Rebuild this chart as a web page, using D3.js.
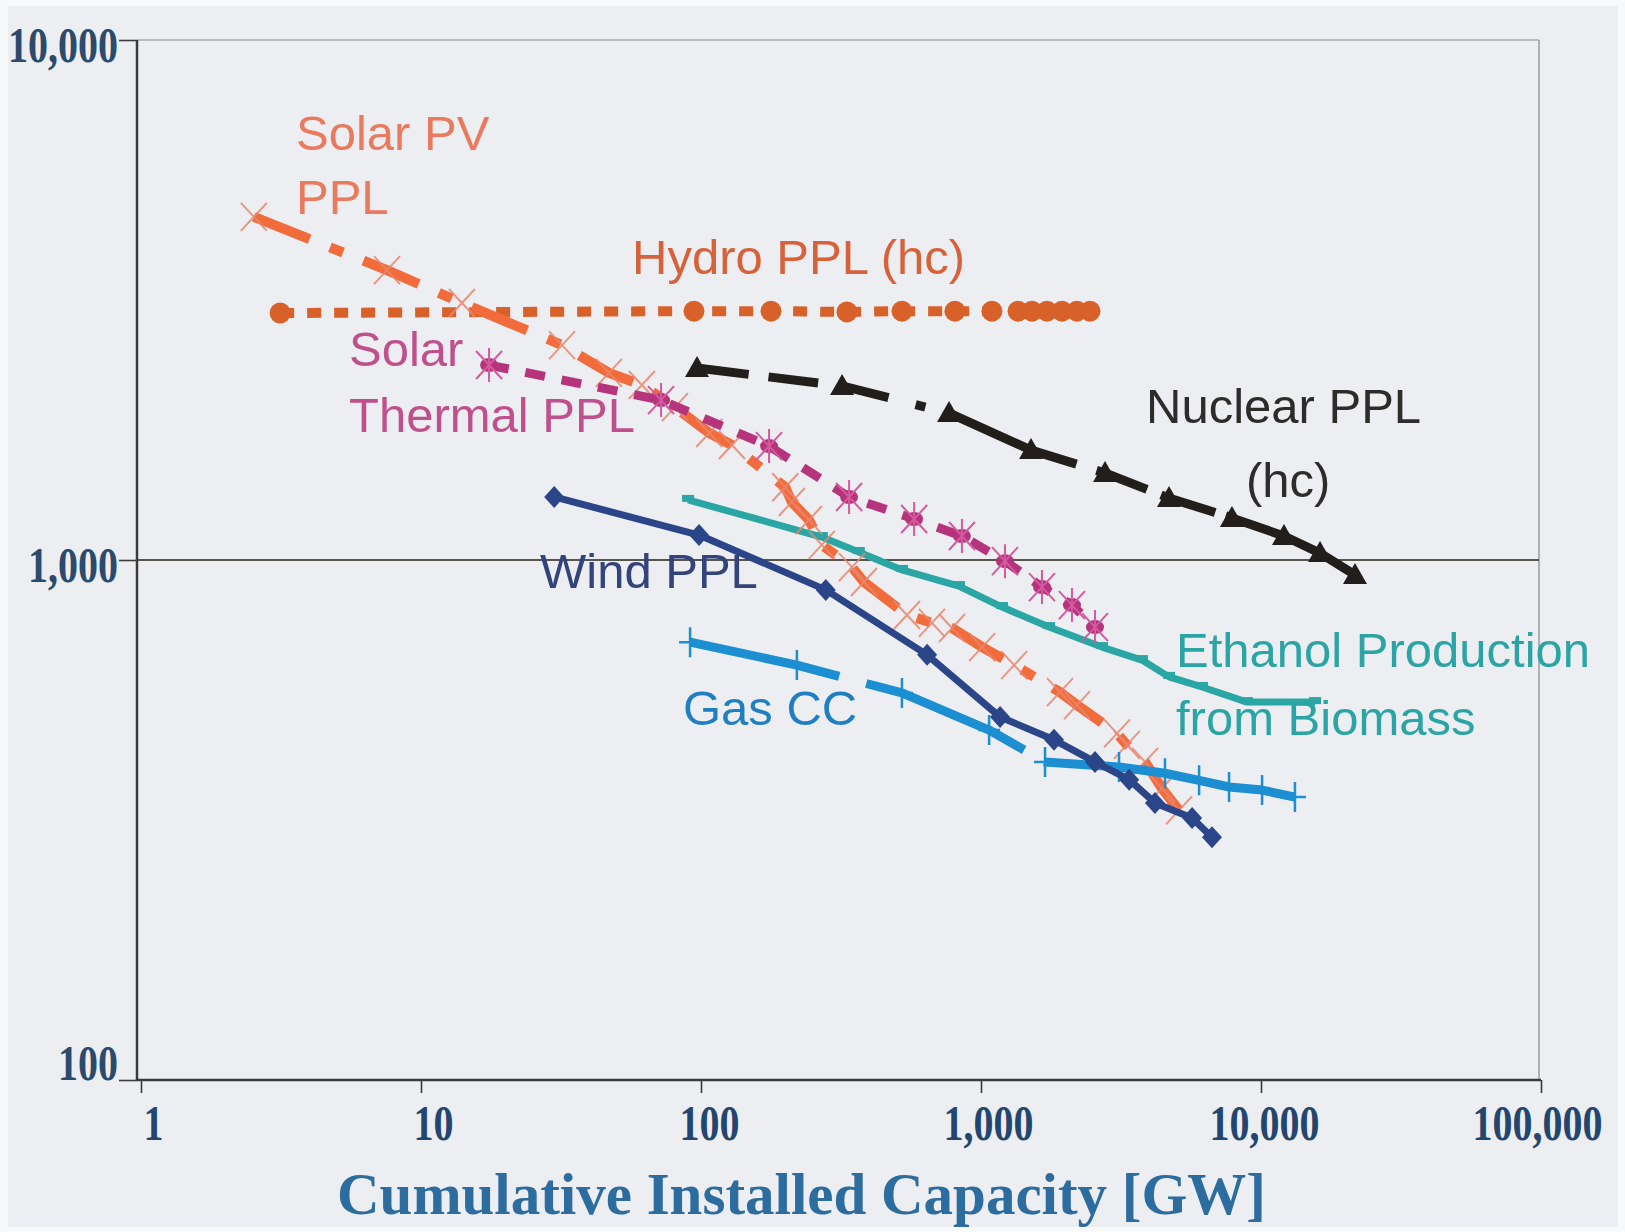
<!DOCTYPE html>
<html>
<head>
<meta charset="utf-8">
<script src="https://cdn.jsdelivr.net/npm/d3@7"></script>
<style>
  html, body { margin: 0; padding: 0; background: #f7f8f9; }
  svg { display: block; }
</style>
</head>
<body>
<svg id="chart" width="1625" height="1232"></svg>
<script>
// ---- Experience curves: specific cost vs. cumulative installed capacity [GW] ----

// Solar PV power plants
const solarPVCap  = [2.53, 7.56, 14.0, 31.9, 46.9, 61.5, 80.7, 107, 129, 200, 211, 243, 270, 346, 382, 544, 668, 788, 1009, 1313, 1915, 2203, 3061, 3319, 3853, 4426, 5093];
const solarPVCost = [4570, 3610, 3120, 2590, 2290, 2170, 1968, 1755, 1664, 1380, 1293, 1194, 1069, 969, 907, 784, 757, 740, 680, 628, 557, 526, 464, 441, 409, 364, 330];

// Hydro power plants (hc)
const hydroCap  = [3.14, 94.4, 177.8, 332, 522, 807, 1094, 1356, 1521, 1720, 1946, 2202, 2450];
const hydroCost = [2985, 3010, 3010, 3000, 3010, 3010, 3010, 3010, 3010, 3010, 3010, 3010, 3010];

// Solar thermal power plants
const solarThermalCap  = [17.5, 72, 175, 338, 577, 855, 1218, 1651, 2113, 2553];
const solarThermalCost = [2371, 2030, 1656, 1322, 1199, 1112, 995, 887, 819, 743];

// Nuclear power plants (hc)
const nuclearCap  = [96.8, 319, 769, 1509, 2773, 4693, 7874, 12080, 16250, 21660];
const nuclearCost = [2340, 2161, 1917, 1627, 1470, 1316, 1205, 1112, 1031, 936];

// Wind power plants
const windCap  = [29.9, 98.4, 279, 642, 1170, 1823, 2553, 3382, 4180, 5675, 6683];
const windCost = [1322, 1117, 876, 657, 499, 451, 409, 378, 341, 319, 293];

// Ethanol production from biomass
const ethanolCap  = [89.9, 270, 366, 522, 834, 1189, 1749, 2704, 3756, 4693, 6152, 8913, 15600];
const ethanolCost = [1305, 1107, 1036, 957, 891, 812, 743, 680, 642, 596, 570, 533, 533];

// Gas combined cycle
const gasCCCap  = [91.4, 220, 522, 1069, 1693, 3111, 4540, 6010, 7690, 10090, 13220];
const gasCCCost = [695, 628, 555, 471, 409, 400, 389, 377, 366, 361, 350];

// Axis ticks
const xMajorTicks  = [1, 10, 100, 1000, 10000, 100000];
const xTickLabels  = ["1", "10", "100", "1,000", "10,000", "100,000"];
const yMajorTicks  = [100, 1000, 10000];
const yTickLabels  = ["100", "1,000", "10,000"];

// ---------------------------------------------------------------------------
const W = 1625, H = 1232;
const svg = d3.select("#chart");
const serif = "'Liberation Serif', 'Times New Roman', serif";

// paper
svg.append("rect").attr("width", W).attr("height", H).attr("fill", "#f8f9fa");
svg.append("rect").attr("x", 8).attr("y", 6).attr("width", 1610).attr("height", 1221).attr("fill", "#eceef1");

const x = d3.scaleLog().domain([1, 1e5]).range([141, 1541]);
const y = d3.scaleLog().domain([100, 1e4]).range([1080, 40]);

const plotLeft = 137, plotRight = 1539;

// frame and 1,000 reference line
svg.append("line").attr("x1", plotLeft).attr("x2", plotRight).attr("y1", y(1e4)).attr("y2", y(1e4))
  .attr("stroke", "#a9abae").attr("stroke-width", 1.5);
svg.append("line").attr("x1", plotRight).attr("x2", plotRight).attr("y1", y(1e4)).attr("y2", y(100))
  .attr("stroke", "#9a9c9f").attr("stroke-width", 1.5);
svg.append("line").attr("x1", plotLeft).attr("x2", plotRight).attr("y1", y(1000)).attr("y2", y(1000))
  .attr("stroke", "#55554c").attr("stroke-width", 2);

// minor tick values (2..9 per decade)
function minorTicks(lo, hi) {
  const out = [];
  for (let p = lo; p < hi; p *= 10) for (let k = 2; k <= 9; k++) out.push(p * k);
  return out;
}

// tall, narrow tick numerals: a 40px bold serif stretched vertically
function tallNumerals(sel, tx, ty) {
  sel.style("font-family", serif).style("font-weight", "bold").style("font-size", "40px")
    .attr("x", 0).attr("y", 0).attr("dx", null).attr("dy", null)
    .attr("transform", d => `translate(${tx(d)},${ty(d)}) scale(1,1.27)`);
}

// ---- x axis ----
const xLabelShift = [12, 12, 8, 7, 3, -4];
const gx = svg.append("g").attr("transform", `translate(0,${y(100)})`);
gx.call(d3.axisBottom(x).tickValues(minorTicks(1, 1e5)).tickSize(13).tickFormat(""));
gx.call(d3.axisBottom(x).tickValues(xMajorTicks).tickSize(13)
  .tickFormat((d, i) => xTickLabels[i]));
gx.selectAll(".domain").remove();
gx.selectAll(".tick line").attr("stroke", "#3a3a3a").attr("stroke-width", 1.6);
gx.selectAll(".tick text")
  .attr("fill", "#23466f")
  .call(tallNumerals, d => xLabelShift[xMajorTicks.indexOf(d)], () => 60);
svg.append("line").attr("x1", plotLeft).attr("x2", x(1e5)).attr("y1", y(100)).attr("y2", y(100))
  .attr("stroke", "#3a3a3a").attr("stroke-width", 2.5);

// ---- y axis ----
const gy = svg.append("g").attr("transform", `translate(${plotLeft},0)`);
gy.call(d3.axisLeft(y).tickValues(minorTicks(100, 1e4)).tickSize(11).tickFormat(""));
gy.call(d3.axisLeft(y).tickValues(yMajorTicks).tickSize(18).tickFormat((d, i) => yTickLabels[i]));
gy.selectAll(".domain").remove();
gy.selectAll(".tick line").attr("stroke", "#3a3a3a").attr("stroke-width", 1.6);
gy.selectAll(".tick text")
  .attr("fill", "#2b4a6c")
  .call(tallNumerals, () => -19, d => d === 100 ? -1 : 21);
svg.append("line").attr("x1", plotLeft).attr("x2", plotLeft).attr("y1", y(1e4)).attr("y2", y(100))
  .attr("stroke", "#3a3a3a").attr("stroke-width", 2.5);

// axis title
svg.append("text")
  .attr("x", 337).attr("y", 1214)
  .attr("textLength", 929).attr("lengthAdjust", "spacingAndGlyphs")
  .attr("fill", "#2c6c9e")
  .style("font-family", serif)
  .style("font-weight", "bold").style("font-size", "60px")
  .text("Cumulative Installed Capacity [GW]");

// ---- marker shapes ----
const markers = {
  cross: (g, c) => g.append("path").attr("d", "M-13,-14L13,14M-13,14L13,-14")
    .attr("stroke", c).attr("stroke-width", 2).attr("fill", "none").attr("opacity", 0.85),
  asterisk: (g, c) => {
    g.append("ellipse").attr("rx", 9).attr("ry", 7).attr("fill", "#b5347c");
    g.append("path").attr("d", "M-13,-14L13,14M-13,14L13,-14M0,-17V17")
      .attr("stroke", c).attr("stroke-width", 2).attr("fill", "none");
  },
  circle: (g, c) => g.append("circle").attr("r", 10.5).attr("fill", c),
  triangle: (g, c) => g.append("path").attr("d", "M0,-12L12,9L-12,9Z").attr("fill", c),
  diamond: (g, c) => g.append("path").attr("d", "M0,-11L10,0L0,11L-10,0Z").attr("fill", c),
  plus: (g, c) => g.append("path").attr("d", "M0,-15V15M-11,0H11")
    .attr("stroke", c).attr("stroke-width", 2.5).attr("fill", "none"),
  flag: (g, c) => g.append("rect").attr("x", -6).attr("y", -5).attr("width", 12).attr("height", 7).attr("fill", c)
};

const series = [
  { xs: hydroCap, ys: hydroCost, color: "#d8612a", width: 10, dash: "14,13", marker: "circle", mcolor: "#d8612a" },
  { xs: nuclearCap, ys: nuclearCost, color: "#221e1b", width: 9, dash: "52,20,50,26,46,28,10,26,136,21,54,15,57,11,200", marker: "triangle", mcolor: "#221e1b" },
  { xs: ethanolCap, ys: ethanolCost, color: "#2aa6a4", width: 7, dash: null, marker: "flag", mcolor: "#2aa6a4" },
  { xs: solarPVCap, ys: solarPVCost, color: "#f26b3a", width: 10, dash: "60,22,14,22", marker: "cross", mcolor: "#e8866f" },
  { xs: solarThermalCap, ys: solarThermalCost, color: "#b5347c", width: 9, dash: "20,17", marker: "asterisk", mcolor: "#d45a9e" },
  { xs: gasCCCap, ys: gasCCCost, color: "#1c8ed2", width: 9, dash: "153,28,172,24,2000", marker: "plus", mcolor: "#1c8ed2" },
  { xs: windCap, ys: windCost, color: "#2b4688", width: 7, dash: null, marker: "diamond", mcolor: "#2b4688" }
];

const line = d3.line().x(d => x(d[0])).y(d => y(d[1]));

series.forEach(s => {
  const pts = s.xs.map((v, i) => [v, s.ys[i]]);
  const g = svg.append("g");
  g.append("path")
    .attr("d", line(pts))
    .attr("fill", "none")
    .attr("stroke", s.color)
    .attr("stroke-width", s.width)
    .attr("stroke-linejoin", "round")
    .attr("stroke-dasharray", s.dash);
  pts.forEach(p => {
    const m = g.append("g").attr("transform", `translate(${x(p[0])},${y(p[1])})`);
    markers[s.marker](m, s.mcolor);
  });
});

// ---- series labels ----
const labelFont = "'Liberation Sans', Arial, sans-serif";
const labels = [
  { lines: ["Solar PV", "PPL"], x: 296, y: 150, dy: 64, color: "#e97a5e" },
  { lines: ["Hydro PPL (hc)"], x: 632, y: 274, dy: 0, color: "#d5623a" },
  { lines: ["Solar", "Thermal PPL"], x: 349, y: 366, dy: 66, color: "#c0508c" },
  { lines: ["Nuclear PPL", "(hc)"], x: 1146, y: 423, dy: 74, color: "#2e2c2a", offsets: [0, 100] },
  { lines: ["Wind PPL"], x: 540, y: 588, dy: 0, color: "#33447c" },
  { lines: ["Gas CC"], x: 683, y: 725, dy: 0, color: "#1f7fc2" },
  { lines: ["Ethanol Production", "from Biomass"], x: 1176, y: 667, dy: 68, color: "#2aa4a4" }
];
labels.forEach(l => {
  l.lines.forEach((t, i) => {
    svg.append("text")
      .attr("x", l.x + (l.offsets ? l.offsets[i] : 0))
      .attr("y", l.y + i * l.dy)
      .attr("fill", l.color)
      .style("font-family", labelFont)
      .style("font-size", "49px")
      .text(t);
  });
});
</script>
</body>
</html>
